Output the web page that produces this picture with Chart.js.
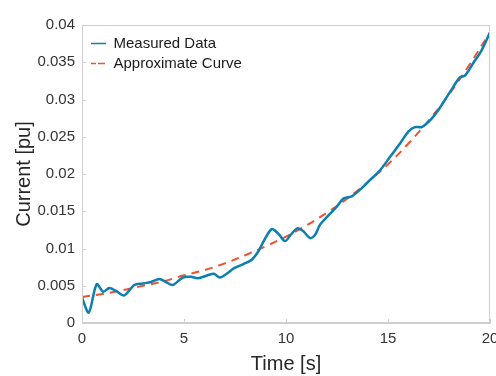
<!DOCTYPE html>
<html>
<head>
<meta charset="utf-8">
<script src="https://cdn.jsdelivr.net/npm/chart.js@4/dist/chart.umd.min.js"></script>
<style>
  html, body { margin: 0; padding: 0; background: #fff; }
  #wrap { width: 496px; height: 376px; }
</style>
</head>
<body>
<div id="wrap"><canvas id="chart" width="496" height="376"></canvas></div>
<script>
'use strict'

// measured current vs time
const measuredTime = [0, 0.33, 0.72, 1.04, 1.34, 1.67, 2.07, 2.56, 2.98, 3.38, 3.79, 4.12, 4.45, 4.94,
    5.34, 5.67, 6.16, 6.47, 6.76, 7.09, 7.42, 7.91, 8.32, 8.64, 8.89, 9.3, 9.62, 9.95, 10.28, 10.55,
    10.85, 11.18, 11.42, 11.67, 12.07, 12.49, 12.81, 13.22, 13.63, 14.12, 14.61, 15.1, 15.59, 16,
    16.32, 16.65, 17.06, 17.47, 18.2, 18.53, 18.77, 19.18, 19.59, 20]
const measuredCurrent = [0.0034, 0.0014, 0.0052, 0.0042, 0.0047, 0.0043, 0.0037, 0.0051, 0.0053, 0.0055,
    0.0059, 0.0055, 0.0051, 0.0061, 0.0062, 0.0060, 0.0064, 0.0066, 0.0061, 0.0066, 0.0073, 0.0079,
    0.0085, 0.0096, 0.0109, 0.0126, 0.0120, 0.0110, 0.0120, 0.0127, 0.0123, 0.0114, 0.0118, 0.0132,
    0.0144, 0.0156, 0.0167, 0.0170, 0.0179, 0.0192, 0.0205, 0.0223, 0.0241, 0.0257, 0.0263, 0.0263,
    0.0272, 0.0286, 0.0317, 0.0330, 0.0332, 0.0349, 0.0366, 0.0390]

// fitted curve
const approxTime = [0, 1, 2, 3, 4, 5, 6, 7, 8, 9, 10, 11, 12, 13, 14, 15, 16, 17, 18, 19, 20]
const approxCurrent = [0.0035, 0.0039, 0.0044, 0.0050, 0.0056, 0.0064, 0.0071, 0.0080, 0.0091, 0.0103,
    0.0116, 0.0131, 0.0148, 0.0167, 0.0189, 0.0213, 0.0241, 0.0272, 0.0307, 0.0347, 0.0390]

const xTicks = [0, 5, 10, 15, 20]
const yTicks = [0, 0.005, 0.01, 0.015, 0.02, 0.025, 0.03, 0.035, 0.04]

const toPoints = (xs, ys) => xs.map((x, i) => ({ x, y: ys[i] }))

const FONT = 'Liberation Sans, Arial, sans-serif'

// box round the plot plus short inward tick marks
const frame = {
    id: 'frame',
    afterDatasetsDraw(chart) {
        const { ctx, chartArea: a } = chart
        const xs = chart.scales.x
        const ys = chart.scales.y
        ctx.save()
        ctx.strokeStyle = '#cfcfcf'
        ctx.lineWidth = 1
        ctx.strokeRect(a.left + 0.5, a.top + 0.5, a.width - 1, a.height - 1)
        ctx.beginPath()
        xTicks.forEach(t => {
            const px = Math.round(xs.getPixelForValue(t)) + 0.5
            ctx.moveTo(px, a.bottom)
            ctx.lineTo(px, a.bottom - 4)
        })
        yTicks.forEach(t => {
            const py = Math.round(ys.getPixelForValue(t)) + 0.5
            ctx.moveTo(a.left, py)
            ctx.lineTo(a.left + 4, py)
        })
        ctx.stroke()
        ctx.restore()
    },
    afterLayout(chart) {
        // legend box gets top = 0 from its own layout; put it in the plot corner
        const lg = chart.legend
        if (lg) {
            const h = lg.bottom - lg.top
            lg.left = chart.chartArea.left + 4
            lg.top = chart.chartArea.top + 6
            lg.bottom = lg.top + h
        }
    }
}

new Chart(document.getElementById('chart'), {
    type: 'line',
    data: {
        datasets: [
            {
                label: 'Measured Data',
                data: toPoints(measuredTime, measuredCurrent),
                borderColor: '#0b7fb0',
                backgroundColor: '#0b7fb0',
                borderWidth: 2.5,
                pointRadius: 0,
                tension: 0.3,
                fill: false
            },
            {
                label: 'Approximate Curve',
                data: toPoints(approxTime, approxCurrent),
                borderColor: '#ee5230',
                backgroundColor: '#ee5230',
                borderWidth: 2,
                borderDash: [8, 6],
                pointRadius: 0,
                tension: 0.4,
                fill: false
            }
        ]
    },
    options: {
        responsive: false,
        animation: false,
        layout: { padding: { top: 25, right: 6, left: 0, bottom: 0 } },
        scales: {
            x: {
                type: 'linear',
                min: 0,
                max: 20,
                afterBuildTicks(scale) {
                    scale.ticks = xTicks.map(v => ({ value: v }))
                },
                afterFit(scale) {
                    scale.height = 53
                    scale.paddingLeft = 0
                    scale.paddingRight = 0
                },
                grid: { drawOnChartArea: false, drawTicks: false, color: '#cfcfcf' },
                border: { color: '#cfcfcf' },
                ticks: {
                    padding: 7,
                    maxRotation: 0,
                    color: '#333',
                    font: { family: FONT, size: 15 },
                    callback: v => String(v)
                },
                title: {
                    display: true,
                    text: 'Time [s]',
                    color: '#262626',
                    font: { family: FONT, size: 20 },
                    padding: { top: 2, bottom: 0 }
                }
            },
            y: {
                type: 'linear',
                min: 0,
                max: 0.04,
                afterBuildTicks(scale) {
                    scale.ticks = yTicks.map(v => ({ value: v }))
                },
                afterFit(scale) {
                    scale.width = 82
                    scale.paddingTop = 0
                    scale.paddingBottom = 0
                },
                grid: { drawOnChartArea: false, drawTicks: false, color: '#cfcfcf' },
                border: { color: '#cfcfcf' },
                ticks: {
                    padding: 7,
                    color: '#333',
                    font: { family: FONT, size: 15 },
                    callback: v => String(+v.toFixed(3))
                },
                title: {
                    display: true,
                    text: 'Current [pu]',
                    color: '#262626',
                    font: { family: FONT, size: 20 },
                    padding: { top: 12, bottom: 0 }
                }
            }
        },
        plugins: {
            legend: {
                position: 'chartArea',
                align: 'start',
                labels: {
                    boxWidth: 15,
                    boxHeight: 0,
                    padding: 5,
                    color: '#1a1a1a',
                    font: { family: FONT, size: 15 },
                    generateLabels(chart) {
                        const items = Chart.defaults.plugins.legend.labels.generateLabels(chart)
                        items.forEach(it => {
                            it.lineWidth = 1.5
                            // shorter dashes so the sample reads as dashed
                            if (it.lineDash && it.lineDash.length) it.lineDash = [5, 4]
                        })
                        return items
                    }
                }
            },
            tooltip: { enabled: false }
        }
    },
    plugins: [frame]
})
</script>
</body>
</html>
